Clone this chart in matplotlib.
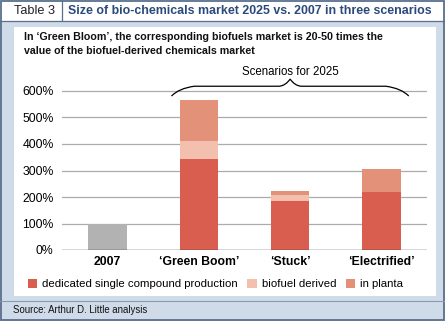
import numpy as np
import matplotlib
matplotlib.use('Agg')
import matplotlib.pyplot as plt
from matplotlib.patches import Rectangle, PathPatch
from matplotlib.path import Path

plt.rcParams['font.family'] = ['Liberation Sans', 'DejaVu Sans']

# Data (% of 2007 market size)
categories = ['2007', '\u2018Green Boom\u2019', '\u2018Stuck\u2019', '\u2018Electrified\u2019']
base_2007 = [100, 0, 0, 0]
dedicated = [0, 345, 185, 220]
biofuel_derived = [0, 65, 22, 0]
in_planta = [0, 155, 15, 87]
series_names = ['dedicated single compound production', 'biofuel derived', 'in planta']
yticks = [0, 100, 200, 300, 400, 500, 600]

c_grey = '#b2b2b2'
c_dark = '#d95e50'
c_light = '#f3c0b0'
c_mid = '#e4917a'
c_panel = '#cfdbe9'
c_border = '#5a6f8c'
c_title = '#2b4a7c'

W, H = 445, 321
fig = plt.figure(figsize=(W / 100, H / 100), dpi=100)
fig.patch.set_facecolor(c_panel)


def rect(x, y, w, h, **kw):
    # rectangle given in pixels from the top-left corner
    r = Rectangle((x / W, 1 - (y + h) / H), w / W, h / H, transform=fig.transFigure, **kw)
    fig.add_artist(r)
    return r


def ftext(x, y, s, **kw):
    fig.text(x / W, 1 - y / H, s, **kw)


# frame pieces
rect(0, 0, W, 21, facecolor='white', edgecolor='none', zorder=0)
rect(14, 27, 422, 269, facecolor='white', edgecolor='none', zorder=0)
rect(0.8, 0.8, W - 1.6, H - 1.6, facecolor='none', edgecolor=c_border, lw=1.3, zorder=5)
rect(0, 21, W, 0.01, facecolor='none', edgecolor=c_border, lw=0.9, zorder=5)
rect(0, 301, W, 0.01, facecolor='none', edgecolor='#8a9ab0', lw=0.8, zorder=5)
rect(62, 0, 0.01, 21, facecolor='none', edgecolor=c_border, lw=0.9, zorder=5)

ftext(14, 11, 'Table 3', fontsize=9.2, ha='left', va='center', color='#222222')
ftext(68, 11, 'Size of bio-chemicals market 2025 vs. 2007 in three scenarios',
      fontsize=8.95, fontweight='bold', color=c_title, va='center')
ftext(24, 37, 'In \u2018Green Bloom\u2019, the corresponding biofuels market is 20-50 times the',
      fontsize=7.7, fontweight='bold', va='center', color='#111111')
ftext(24, 50.5, 'value of the biofuel-derived chemicals market',
      fontsize=7.7, fontweight='bold', va='center', color='#111111')
ftext(13, 310, 'Source: Arthur D. Little analysis', fontsize=6.9, va='center', color='#111111')

# axes: 0% at y=250 px, 26.5 px per 100%
ax = fig.add_axes([62 / W, (H - 250) / H, 365 / W, 26.5 * 6.5 / H])
ax.set_facecolor('none')
x = np.arange(len(categories))
bw = 0.42
ax.bar(x, base_2007, bw, color=c_grey, zorder=3)
b1 = ax.bar(x, dedicated, bw, color=c_dark, zorder=3, label=series_names[0])
bottom2 = np.array(dedicated)
b2 = ax.bar(x, biofuel_derived, bw, bottom=bottom2, color=c_light, zorder=3, label=series_names[1])
bottom3 = bottom2 + np.array(biofuel_derived)
b3 = ax.bar(x, in_planta, bw, bottom=bottom3, color=c_mid, zorder=3, label=series_names[2])

ax.set_xlim(-0.5, 3.5)
ax.set_ylim(0, 650)
ax.set_yticks(yticks)
ax.set_yticklabels([f'{v}%' for v in yticks], fontsize=8.8)
ax.tick_params(axis='y', length=0, pad=6)
ax.tick_params(axis='x', length=0, pad=4)
ax.set_xticks(x)
ax.set_xticklabels(categories, fontsize=8.8, fontweight='bold')
for v in yticks[1:]:
    ax.axhline(v, color='#ababab', lw=0.9, zorder=1)
ax.axhline(0, color='#333333', lw=1.0, zorder=4)
for s in ax.spines.values():
    s.set_visible(False)

# brace over the 2025 scenarios
x0, x1, xm = 0.7, 3.3, 2.0
yb, yf, yp = 581, 618, 645
verts = [(x0, yb), (x0 + 0.08, yf - 8), (x0 + 0.25, yf), (xm - 0.12, yf),
         (xm - 0.12, yf), (xm - 0.05, yf + 2), (xm, yp),
         (xm + 0.05, yf + 2), (xm + 0.12, yf), (xm + 0.12, yf),
         (x1 - 0.25, yf), (x1 - 0.08, yf - 8), (x1, yb)]
codes = [Path.MOVETO, Path.CURVE3, Path.CURVE3, Path.LINETO,
         Path.LINETO, Path.CURVE3, Path.CURVE3,
         Path.CURVE3, Path.CURVE3, Path.LINETO,
         Path.LINETO, Path.CURVE3, Path.CURVE3]
ax.add_patch(PathPatch(Path(verts, codes), facecolor='none', edgecolor='black', lw=0.9, clip_on=False))
ax.text(xm, 672, 'Scenarios for 2025', ha='center', va='center', fontsize=8.3)

fig.legend(handles=[b1, b2, b3], labels=series_names, loc='center left',
           bbox_to_anchor=(23 / W, 1 - 284 / H), ncol=3, frameon=False, fontsize=8.2,
           handlelength=0.85, handleheight=0.85, handletextpad=0.45, columnspacing=0.8,
           borderaxespad=0)

fig.savefig('out.png', dpi=100, facecolor=fig.get_facecolor())
